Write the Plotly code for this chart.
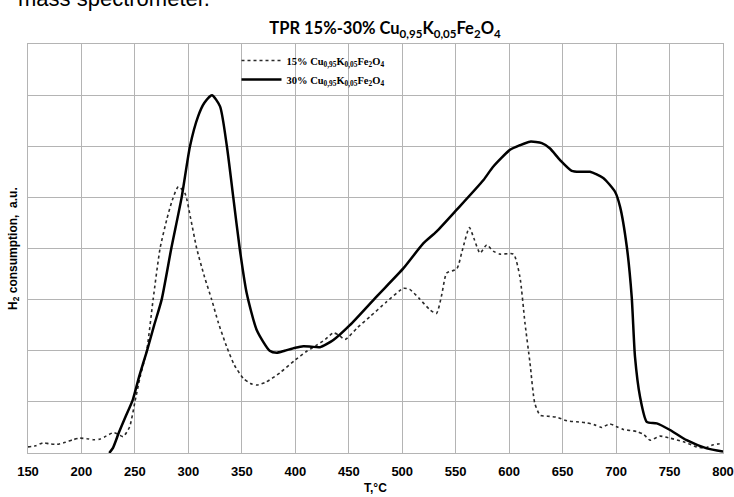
import plotly.graph_objects as go

# 15% series (dotted)
t15 = [150, 157, 164, 170, 177, 185, 192, 198.6, 205, 211, 217, 223, 230, 235, 239, 245, 250, 255, 261, 267,
       273.5, 279.7, 285, 290.6, 296.8, 302, 307.8, 315, 321.8, 328, 335.8, 343, 351.4, 358, 364, 372, 385.7,
       400, 410, 420, 428, 435.6, 441, 446.5, 458, 470, 485, 501, 507, 516, 526, 532, 537, 541.6, 551, 556,
       562.8, 567, 572.8, 579, 585, 591.5, 604, 610, 614.8, 619.5, 624, 629, 636, 644.5, 654, 663, 672.6, 680,
       686.6, 694, 700, 706.8, 719.3, 726, 731.8, 741, 750.5, 763, 775.5, 783, 791, 800]
y15 = [0.12, 0.14, 0.20, 0.18, 0.17, 0.21, 0.26, 0.29, 0.28, 0.26, 0.27, 0.33, 0.40, 0.36, 0.32, 0.51, 1.0, 1.5,
       2.0, 3.0, 4.0, 4.56, 4.95, 5.21, 5.08, 4.6, 4.0, 3.45, 3.0, 2.55, 2.08, 1.72, 1.46, 1.36, 1.33, 1.38, 1.57,
       1.82, 1.98, 2.11, 2.22, 2.35, 2.30, 2.22, 2.45, 2.67, 2.95, 3.22, 3.20, 3.02, 2.80, 2.73, 3.10, 3.52, 3.60,
       3.95, 4.41, 4.20, 3.91, 4.07, 3.95, 3.89, 3.89, 3.45, 2.54, 1.76, 0.97, 0.74, 0.72, 0.70, 0.63, 0.61, 0.59,
       0.55, 0.50, 0.57, 0.52, 0.46, 0.42, 0.36, 0.25, 0.33, 0.29, 0.22, 0.12, 0.10, 0.16, 0.19]

# 30% series (solid)
t30 = [226, 229.5, 235, 241, 248, 254, 261, 268, 275, 284, 293.7, 301.5, 309, 315, 322, 329.6, 336, 342, 348,
       354.5, 364, 376, 382.6, 390, 400, 407.5, 415, 423, 435.6, 451, 476, 501, 519.7, 532, 551, 576, 585, 600.8,
       610, 619.5, 630.5, 638, 647.6, 658.5, 667, 675.6, 688, 699, 703.7, 710, 714.6, 717.7, 722.4, 728.7, 738,
       750.5, 766, 784.8, 800]
y30 = [0.0, 0.1, 0.4, 0.7, 1.04, 1.5, 1.98, 2.5, 3.0, 4.0, 5.0, 6.0, 6.58, 6.85, 7.0, 6.78, 6.0, 5.0, 4.0, 3.13,
       2.4, 2.0, 1.96, 2.0, 2.06, 2.09, 2.08, 2.07, 2.21, 2.5, 3.06, 3.61, 4.1, 4.33, 4.76, 5.34, 5.6, 5.93, 6.02,
       6.09, 6.06, 5.96, 5.73, 5.52, 5.5, 5.5, 5.38, 5.11, 4.82, 4.04, 3.06, 1.88, 1.1, 0.61, 0.58, 0.45, 0.25,
       0.09, 0.03]

x_ticks = [150, 200, 250, 300, 350, 400, 450, 500, 550, 600, 650, 700, 750, 800]

name15 = "<b>15% Cu<sub>0,95</sub>K<sub>0,05</sub>Fe<sub>2</sub>O<sub>4</sub></b>"
name30 = "<b>30% Cu<sub>0,95</sub>K<sub>0,05</sub>Fe<sub>2</sub>O<sub>4</sub></b>"

fig = go.Figure()
fig.add_trace(go.Scatter(x=t15, y=y15, mode="lines", name=name15,
                         line=dict(color="#2a2a2a", width=1.6, dash="dot", shape="spline", smoothing=0.6)))
fig.add_trace(go.Scatter(x=t30, y=y30, mode="lines", name=name30,
                         line=dict(color="#000000", width=2.5, shape="spline", smoothing=0.6)))

grid = "#b4b4b4"
fig.update_layout(
    width=734, height=497,
    margin=dict(l=28, r=11, t=44, b=44, autoexpand=False),
    paper_bgcolor="white", plot_bgcolor="white",
    showlegend=True,
    legend=dict(x=0.300, y=0.995, xanchor="left", yanchor="top", bgcolor="rgba(0,0,0,0)",
                font=dict(family="Liberation Serif", size=10.5, color="black"),
                tracegroupgap=2, itemwidth=40),
    title=dict(text="<b>TPR 15%-30% Cu<sub>0,95</sub>K<sub>0,05</sub>Fe<sub>2</sub>O<sub>4</sub></b>",
               x=0.5245, xanchor="center", y=0.943, yanchor="middle",
               font=dict(family="Lato", size=16.5, color="black")),
)
fig.update_xaxes(range=[150, 800], tickvals=x_ticks, ticktext=["<b>%d</b>" % v for v in x_ticks],
                 showgrid=True, gridcolor=grid, gridwidth=1.3, automargin=False,
                 showline=True, linecolor=grid, linewidth=1.3, mirror=True,
                 ticks="outside", ticklen=6, tickcolor="rgba(0,0,0,0)",
                 tickfont=dict(family="Liberation Sans", size=13, color="black"),
                 zeroline=False)
fig.update_yaxes(range=[0, 8], dtick=1, showticklabels=False, automargin=False,
                 showgrid=True, gridcolor=grid, gridwidth=1.3,
                 showline=True, linecolor=grid, linewidth=1.3, mirror=True, zeroline=False)

fig.add_annotation(text="<b>T,°C</b>", xref="paper", yref="paper", x=0.5, y=-0.085,
                   xanchor="center", yanchor="middle", showarrow=False,
                   font=dict(family="Liberation Sans", size=12, color="black"))
fig.add_annotation(text="<b>H<sub>2</sub> consumption,  a.u.</b>", xref="paper", yref="paper",
                   x=-0.021, y=0.5, xanchor="center", yanchor="middle", textangle=-90, showarrow=False,
                   font=dict(family="Liberation Sans", size=12, color="black"))
fig.add_annotation(text="mass spectrometer.", xref="paper", yref="paper", x=0.265, y=1.112,
                   xanchor="right", yanchor="middle", showarrow=False,
                   font=dict(family="Liberation Sans", size=22, color="black"))

fig.write_html("out.html", config={"displayModeBar": False},
               post_script="document.body.style.margin='0px';document.body.style.overflow='hidden';")
